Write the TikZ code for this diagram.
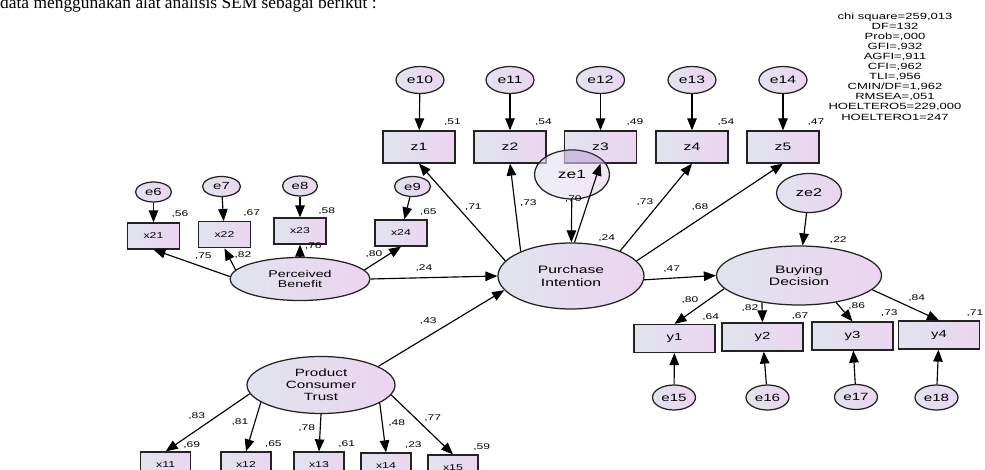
\documentclass[tikz,border=0pt]{standalone}
\usepackage{fontspec}
\usetikzlibrary{shapes.geometric,arrows.meta}
\newfontfamily\dg[FakeStretch=1.45]{Liberation Sans}
\newfontfamily\tnr{Liberation Serif}
\definecolor{cl}{RGB}{224,228,238}
\definecolor{cr}{RGB}{236,212,240}
\definecolor{edge}{RGB}{35,35,35}
\definecolor{ovl}{RGB}{150,120,190}
\tikzset{
  shp/.style={draw=edge, line width=1.25pt, left color=cl, right color=cr, inner sep=0pt, align=center},
  lat/.style={shp, ellipse},
  ind/.style={shp, rectangle},
  fs/.style={font=\dg\fontsize{#1}{12}\selectfont},
  arr/.style={-{Triangle[length=12pt,width=9.5pt]}, line width=1.15pt, black},
  lbl/.style={font=\dg\fontsize{8.3}{10}\selectfont, inner sep=0pt},
  stat/.style={font=\dg\fontsize{9}{10.1}\selectfont, inner sep=0pt, align=center}
}
\begin{document}
\begin{tikzpicture}[x=1pt,y=-1pt]
\useasboundingbox (0,0) rectangle (985,470);
\clip (0,0) rectangle (985,470);
% header text (cut at top)
\node[font=\tnr\fontsize{17.4}{20}\selectfont, anchor=base west, inner sep=0pt] (hdr) at (0,8.6) {data menggunakan alat analisis SEM sebagai berikut :};
% fit statistics
\node[stat, anchor=north] (fit) at (895,12.3) {chi square=259,013\\DF=132\\Prob=,000\\GFI=,932\\AGFI=,911\\CFI=,962\\TLI=,956\\CMIN/DF=1,962\\RMSEA=,051\\HOELTERO5=229,000\\HOELTERO1=247};

% ---- Purchase Intention block
\foreach \n/\x in {10/420,11/510,12/600.5,13/692,14/783}{
  \node[lat, fs=10.8, minimum width=48pt, minimum height=27pt] (e\n) at (\x,80) {e\n};
}
\node[ind, fs=10.8, minimum width=72pt, minimum height=32pt] (z1) at (419,147) {z1};
\node[ind, fs=10.8, minimum width=72pt, minimum height=32pt] (z2) at (510,147) {z2};
\node[ind, fs=10.8, minimum width=72pt, minimum height=32pt] (z3) at (600.5,147) {z3};
\node[ind, fs=10.8, minimum width=72pt, minimum height=32pt] (z4) at (692,147) {z4};
\node[ind, fs=10.8, minimum width=72pt, minimum height=32pt] (z5) at (783,147) {z5};
\node[lat, fs=12, minimum width=75pt, minimum height=49pt, fill opacity=0.6, text opacity=1] (ze1) at (572,174.5) {ze1};
\begin{scope}
  \clip (z3.south west) rectangle (z3.north east);
  \fill[ovl, opacity=0.3] (ze1.center) ellipse [x radius=37.5pt, y radius=24.5pt];
\end{scope}
\node[lat, minimum width=146pt, minimum height=66pt, font=\dg\fontsize{10.8}{12.7}\selectfont] (PI) at (571,276) {Purchase\\Intention};

% ---- Perceived Benefit block
\node[lat, fs=10.3, minimum width=36pt, minimum height=20pt] (e6) at (153.5,192) {e6};
\node[lat, fs=10.3, minimum width=38pt, minimum height=20pt] (e7) at (221.5,186.5) {e7};
\node[lat, fs=10.3, minimum width=35pt, minimum height=20pt] (e8) at (300,186) {e8};
\node[lat, fs=10.3, minimum width=36pt, minimum height=20pt] (e9) at (412.5,186.5) {e9};
\node[ind, fs=8.5, minimum width=52pt, minimum height=26pt] (x21) at (153.5,236) {x21};
\node[ind, fs=8.5, minimum width=52pt, minimum height=26pt] (x22) at (224.5,234.7) {x22};
\node[ind, fs=8.5, minimum width=52pt, minimum height=26pt] (x23) at (300,231) {x23};
\node[ind, fs=8.5, minimum width=52pt, minimum height=26pt] (x24) at (401,233) {x24};
\node[lat, minimum width=140pt, minimum height=43pt, font=\dg\fontsize{9.8}{10.3}\selectfont] (PB) at (300,279) {Perceived\\Benefit};

% ---- Buying Decision block
\node[lat, fs=11.2, minimum width=65pt, minimum height=39pt] (ze2) at (809,193) {ze2};
\node[lat, minimum width=165pt, minimum height=59pt, font=\dg\fontsize{10.8}{11.6}\selectfont] (BD) at (799,275.5) {Buying\\Decision};
\node[ind, fs=10.3, minimum width=81pt, minimum height=28pt] (y1) at (674.5,338.5) {y1};
\node[ind, fs=10.3, minimum width=81pt, minimum height=28pt] (y2) at (762.5,337) {y2};
\node[ind, fs=10.3, minimum width=81pt, minimum height=28pt] (y3) at (852.5,336) {y3};
\node[ind, fs=10.3, minimum width=81pt, minimum height=28pt] (y4) at (939,335) {y4};
\node[lat, fs=10.5, minimum width=43pt, minimum height=25pt] (e15) at (674,397.5) {e15};
\node[lat, fs=10.5, minimum width=43pt, minimum height=25pt] (e16) at (767.5,397.5) {e16};
\node[lat, fs=10.5, minimum width=43pt, minimum height=25pt] (e17) at (856,397) {e17};
\node[lat, fs=10.5, minimum width=43pt, minimum height=25pt] (e18) at (936.5,397.5) {e18};

% ---- Product Consumer Trust block
\node[lat, minimum width=148pt, minimum height=57pt, font=\dg\fontsize{10.5}{12}\selectfont] (PCT) at (321,385) {Product\\Consumer\\Trust};
\node[ind, fs=8.5, minimum width=50pt, minimum height=26pt] (x11) at (165.7,465) {x11};
\node[ind, fs=8.5, minimum width=50pt, minimum height=26pt] (x12) at (246,465) {x12};
\node[ind, fs=8.5, minimum width=50pt, minimum height=26pt] (x13) at (319,465) {x13};
\node[ind, fs=8.5, minimum width=50pt, minimum height=26pt] (x14) at (386,466) {x14};
\node[ind, fs=8.5, minimum width=50pt, minimum height=26pt] (x15) at (453,468) {x15};

% ---- arrows
\foreach \n/\z in {10/1,11/2,12/3,13/4,14/5}{ \draw[arr] (e\n) -- (z\z); }
\draw[arr] (e6) -- (x21);
\draw[arr] (e7) -- (x22);
\draw[arr] (e8) -- (x23);
\draw[arr] (e9) -- (x24);
\draw[arr] (e15) -- (y1);
\draw[arr] (e16) -- (y2);
\draw[arr] (e17) -- (y3);
\draw[arr] (e18) -- (y4);
\draw[arr] (PB.178) -- (x21.south);
\draw[arr] (PB.172) -- (x22.south);
\draw[arr] (PB.north) -- (x23.south);
\draw[arr] (PB.8) -- (x24.south);
\draw[arr] (PB.east) -- (PI.west);
\draw[arr] (PCT.18) -- (PI.192);
\draw[arr] (PI.167) -- (z1.south);
\draw[arr] (PI.154) -- (z2.south);
\draw[arr] (ze1) -- (PI);
\draw[arr] (PI.84) -- (z3.south);
\draw[arr] (PI.27) -- (z4.south);
\draw[arr] (PI.13) -- (z5.south);
\draw[arr] (PI.-3) -- (BD.west);
\draw[arr] (ze2) -- (BD);
\draw[arr] (BD.190.6) -- (y1.north);
\draw[arr] (BD.216) -- (y2.north);
\draw[arr] (BD.324) -- (y3.north);
\draw[arr] (BD.349) -- (y4.north);
\draw[arr] (PCT.187) -- (x11.north);
\draw[arr] (PCT.196.5) -- (x12.north);
\draw[arr] (PCT.south) -- (x13.north);
\draw[arr] (PCT.343.4) -- (x14.north);
\draw[arr] (PCT.352) -- (x15.north);

% ---- labels: squared multiple correlations
\node[lbl] (r1) at (452.5,122.5) {,51};
\node[lbl] (r2) at (543.5,122.5) {,54};
\node[lbl] (r3) at (635,122) {,49};
\node[lbl] (r4) at (726,122) {,54};
\node[lbl] (r5) at (816,122) {,47};
\node[lbl] (r6) at (180,214.3) {,56};
\node[lbl] (r7) at (251.7,213.3) {,67};
\node[lbl] (r8) at (326.7,210.7) {,58};
\node[lbl] (r9) at (428.3,212.3) {,65};
\node[lbl] (r10) at (606.7,237.7) {,24};
\node[lbl] (r11) at (838.3,240) {,22};
\node[lbl] (r12) at (710.7,316.7) {,64};
\node[lbl] (r13) at (800,315.7) {,67};
\node[lbl] (r14) at (889.3,313.3) {,73};
\node[lbl] (r15) at (975,313.3) {,71};
\node[lbl] (r16) at (191.7,445) {,69};
\node[lbl] (r17) at (273.3,444) {,65};
\node[lbl] (r18) at (346.7,444) {,61};
\node[lbl] (r19) at (413.3,445) {,23};
\node[lbl] (r20) at (481.7,447.3) {,59};
% ---- labels: path coefficients / loadings
\node[lbl] (w1) at (473.3,206.7) {,71};
\node[lbl] (w2) at (528.3,203.3) {,73};
\node[lbl] (w3) at (573.3,198.7) {,70};
\node[lbl] (w4) at (645,201.7) {,73};
\node[lbl] (w5) at (700,206.7) {,68};
\node[lbl] (w6) at (203.3,256) {,75};
\node[lbl] (w7) at (243,255) {,82};
\node[lbl] (w8) at (313.3,246.5) {,76};
\node[lbl] (w9) at (374,254) {,80};
\node[lbl] (w10) at (424,268.5) {,24};
\node[lbl] (w11) at (671.7,269.3) {,47};
\node[lbl] (w12) at (428.3,320.7) {,43};
\node[lbl] (w13) at (690,300) {,80};
\node[lbl] (w14) at (750,307.7) {,82};
\node[lbl] (w15) at (856.7,305.7) {,86};
\node[lbl] (w16) at (916.7,297.7) {,84};
\node[lbl] (w17) at (196.7,416) {,83};
\node[lbl] (w18) at (240,421.7) {,81};
\node[lbl] (w19) at (306.7,428.3) {,78};
\node[lbl] (w20) at (396.7,422.7) {,48};
\node[lbl] (w21) at (432.7,418.3) {,77};
\end{tikzpicture}
\end{document}
